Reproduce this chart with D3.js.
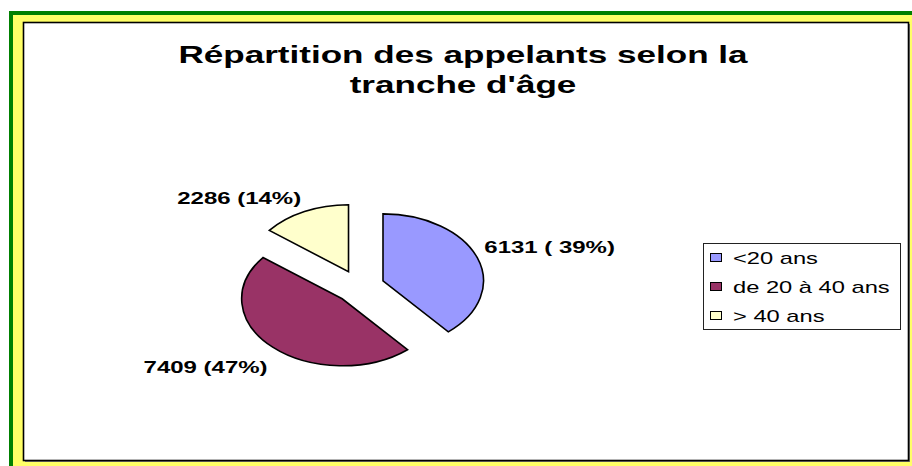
<!DOCTYPE html>
<html lang="fr">
<head>
<meta charset="UTF-8">
<title>Répartition des appelants selon la tranche d'âge</title>
<script src="https://d3js.org/d3.v7.min.js"></script>
<style>
    html, body { margin: 0; padding: 0; background: #fff; }
    svg { display: block; font-family: "Liberation Sans", Arial, sans-serif; }
</style>
</head>
<body>
<svg id="chart" width="912" height="466"></svg>
<script>
    const categories = ["<20 ans", "de 20 à 40 ans", "> 40 ans"];
    const values = [6131, 7409, 2286];
    const labelTexts = ["6131 ( 39%)", "7409 (47%)", "2286 (14%)"];
    const colors = ["#9999FF", "#993366", "#FFFFCC"];
    const titleLines = ["Répartition des appelants selon la", "tranche d'âge"];

    const W = 912, H = 466;
    const stretch = 1.5;          // the whole picture is wider than tall
    const radius = 67;
    const explode = 16.7;
    const labelRadius = 72;
    const center = { x: 359.5, y: 286.7 };

    const svg = d3.select("#chart");

    // frame: green edge, yellow band, white area with dark border
    svg.append("rect").attr("x", 9).attr("y", 11).attr("width", W).attr("height", H).attr("fill", "#008000");
    svg.append("rect").attr("x", 13).attr("y", 15).attr("width", W).attr("height", H).attr("fill", "#FFFF66");
    svg.append("rect").attr("x", 25).attr("y", 24).attr("width", 885).attr("height", 438).attr("fill", "#777");
    svg.append("rect").attr("x", 23.5).attr("y", 22.5).attr("width", 885).attr("height", 438)
        .attr("fill", "#fff").attr("stroke", "#000").attr("stroke-width", 1.6);

    // title
    const title = svg.append("g").attr("transform", `translate(463,0) scale(${stretch},1)`);
    title.selectAll("text")
        .data(titleLines)
        .enter()
        .append("text")
        .attr("x", 0)
        .attr("y", (_, i) => 63.5 + i * 30)
        .attr("text-anchor", "middle")
        .style("font-size", "23.4px")
        .style("font-weight", "bold")
        .text(d => d);

    // pie
    const pie = d3.pie().sort(null).value(d => d)(values);
    const arc = d3.arc().innerRadius(0).outerRadius(radius);

    const pieG = svg.append("g")
        .attr("transform", `translate(${center.x},${center.y}) scale(${stretch},1)`);

    const slices = pieG.selectAll(".slice")
        .data(pie)
        .enter()
        .append("g")
        .attr("class", "slice")
        .attr("transform", d => {
            const a = (d.startAngle + d.endAngle) / 2;
            return `translate(${Math.sin(a) * explode},${-Math.cos(a) * explode})`;
        });

    slices.append("path")
        .attr("d", arc)
        .attr("fill", (_, i) => colors[i])
        .attr("stroke", "#000")
        .attr("stroke-width", 1.6)
        .attr("vector-effect", "non-scaling-stroke")
        .attr("stroke-linejoin", "miter");

    slices.append("text")
        .attr("x", d => Math.sin((d.startAngle + d.endAngle) / 2) * labelRadius)
        .attr("y", d => {
            const a = (d.startAngle + d.endAngle) / 2;
            const y = -Math.cos(a) * labelRadius;
            return y < 0 ? y - 3 : y + 22;
        })
        .attr("text-anchor", d => Math.sin((d.startAngle + d.endAngle) / 2) > 0 ? "start" : "end")
        .style("font-size", "16px")
        .style("font-weight", "bold")
        .text((_, i) => labelTexts[i]);

    // legend
    const legend = svg.append("g").attr("transform", "translate(703,243)");
    legend.append("rect")
        .attr("x", 0.5).attr("y", 0.5)
        .attr("width", 197).attr("height", 86)
        .attr("fill", "#fff").attr("stroke", "#222").attr("stroke-width", 1);

    const rowY = d3.scalePoint().domain(categories).range([15, 73]);

    const items = legend.selectAll(".item")
        .data(categories)
        .enter()
        .append("g")
        .attr("class", "item")
        .attr("transform", d => `translate(0,${rowY(d)})`);

    items.append("rect")
        .attr("x", 7.5).attr("y", -4.5)
        .attr("width", 11).attr("height", 8)
        .attr("fill", (_, i) => colors[i])
        .attr("stroke", "#000").attr("stroke-width", 1);

    items.append("text")
        .attr("transform", `translate(30,6) scale(${stretch},1)`)
        .style("font-size", "15.8px")
        .text(d => d);
</script>
</body>
</html>
